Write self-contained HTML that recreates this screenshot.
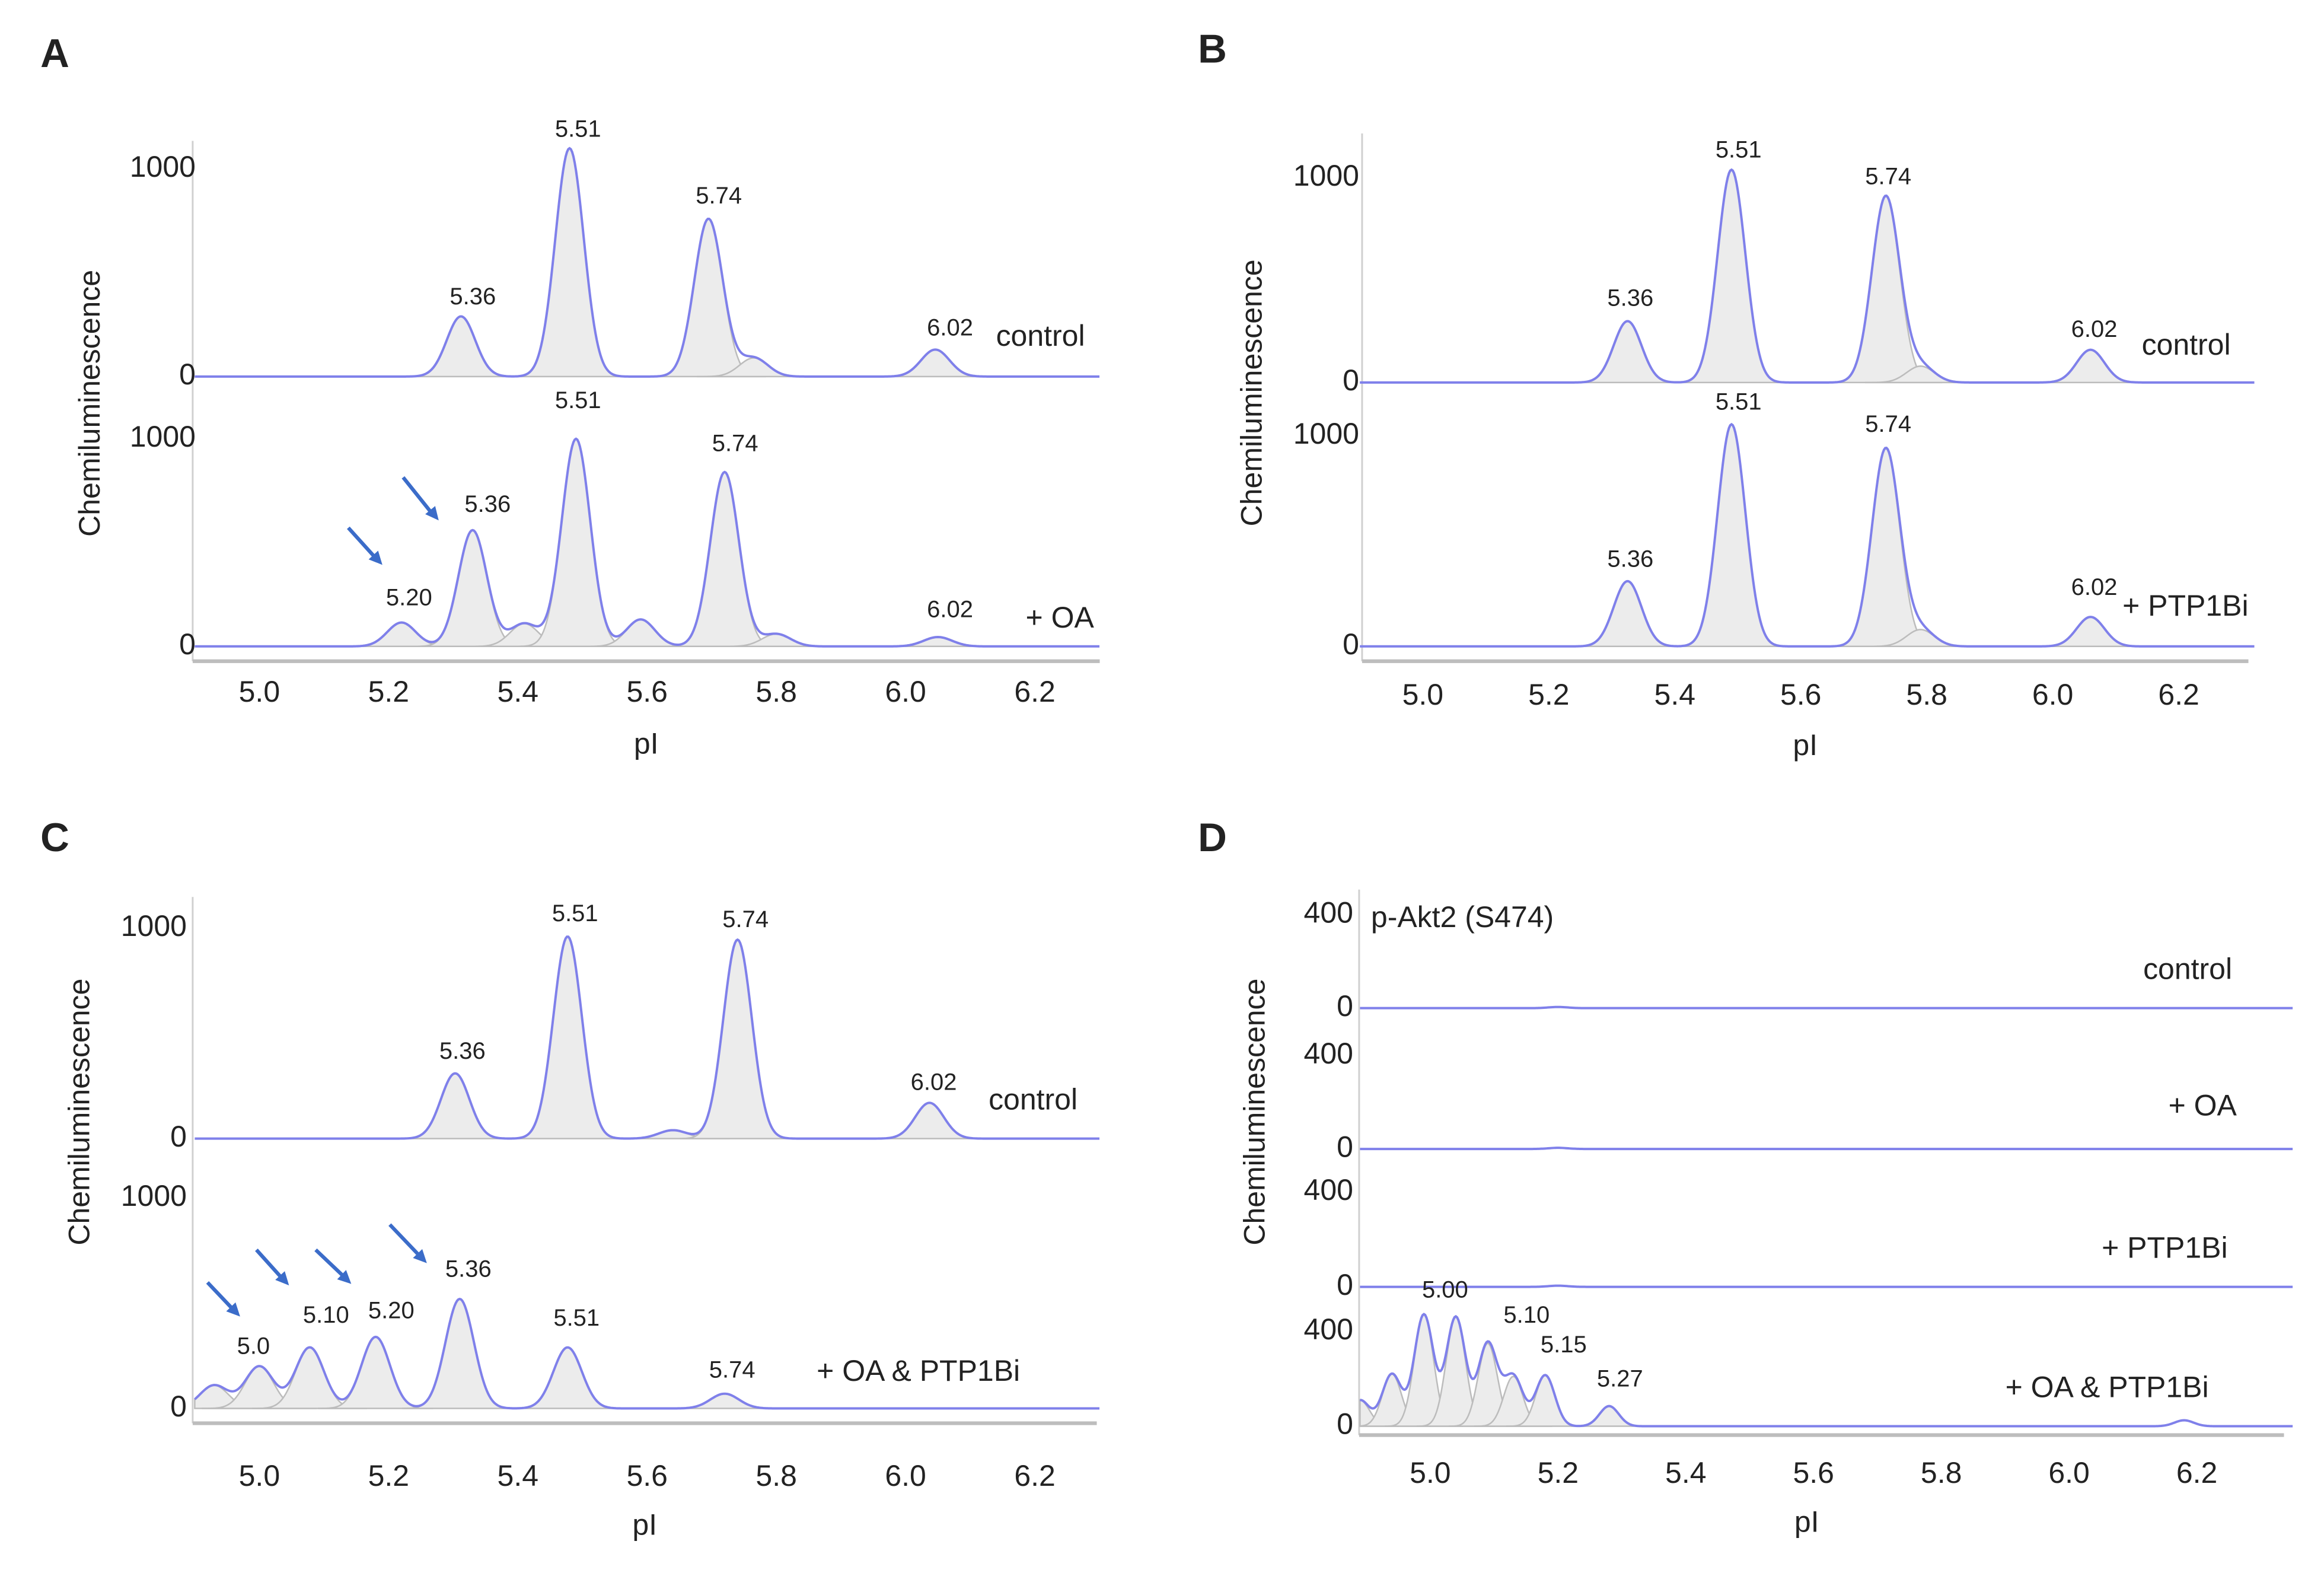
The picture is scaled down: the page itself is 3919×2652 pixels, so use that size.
<!DOCTYPE html>
<html><head><meta charset="utf-8"><style>
html,body{margin:0;padding:0;background:#fff}
svg{display:block}
text{font-family:"Liberation Sans",sans-serif;fill:#222}
</style></head><body>
<svg id="fig" width="3919" height="2652" viewBox="0 0 1568 1061" preserveAspectRatio="none" xmlns="http://www.w3.org/2000/svg"></svg>
<script>
// ---- data: peak centers (pI), heights (chemiluminescence), per trace ----
const aCtrlCenters=[5.312,5.48,5.695,5.765,6.046];
const aCtrlHeights=[290,1100,760,90,130];
const aOaCenters=[5.22,5.33,5.41,5.49,5.59,5.72,5.80,6.05];
const aOaHeights=[115,560,110,1000,130,840,60,45];
const bCtrlCenters=[5.325,5.49,5.735,5.79,6.06];
const bCtrlHeights=[300,1040,910,80,160];
const bPtpCenters=[5.325,5.49,5.735,5.79,6.06];
const bPtpHeights=[310,1055,940,80,140];
const cCtrlCenters=[5.303,5.477,5.64,5.74,6.037];
const cCtrlHeights=[310,960,40,945,170];
const cBothCenters=[4.93,5.0,5.078,5.18,5.31,5.477,5.72];
const cBothHeights=[110,200,290,340,520,290,70];
const dCtrlCenters=[5.2];const dCtrlHeights=[5];
const dOaCenters=[5.2];const dOaHeights=[5];
const dPtpCenters=[5.2];const dPtpHeights=[5];
const dBothCenters=[4.89,4.94,4.99,5.04,5.09,5.13,5.18,5.28,6.18];
const dBothHeights=[110,220,470,460,350,210,215,85,25];
const xTicks=[5.0,5.2,5.4,5.6,5.8,6.0,6.2];
const xTickLabels=["5.0","5.2","5.4","5.6","5.8","6.0","6.2"];

const svg=document.getElementById('fig');
const NS="http://www.w3.org/2000/svg";
function mk(tag,attrs,parent){const e=document.createElementNS(NS,tag);for(const k in attrs)e.setAttribute(k,attrs[k]);(parent||svg).appendChild(e);return e;}
function txt(x,y,s,size,anchor,name,weight){const t=mk('text',{x:x,y:y,'font-size':size,'text-anchor':anchor||'middle','dominant-baseline':'middle'});if(weight)t.setAttribute('font-weight',weight);t.textContent=s;


return t;}
function gauss(p,c,h,s){return h*Math.exp(-0.5*Math.pow((p-c)/s,2));}

function panel(P){
  const g=mk('g',{});
  
  
  const X=p=>P.x0+(p-5)*P.xs;
  const pStart=P.pStart, SIG=P.sig;
  mk('line',{x1:P.ax,y1:P.ayTop,x2:P.ax,y2:P.axisY,stroke:'#d0d0d0','stroke-width':1.2},g);
  mk('line',{x1:P.ax,y1:P.axisY,x2:P.axEnd,y2:P.axisY,stroke:'#bdbdbd','stroke-width':2.5},g);
  xTicks.forEach((t,i)=>txt(X(t),P.tickY,xTickLabels[i],20,'middle','x-tick-label'));
  txt((P.ax+P.axEnd)/2+ (P.id==='D'?-10:0),P.xtY,'pI',20,'middle','x-axis-title');
  const yt=txt(P.ytX,P.ytY,'Chemiluminescence',20,'middle','y-axis-title');
  yt.setAttribute('transform','rotate(-90 '+P.ytX+' '+P.ytY+')');
  txt(P.letter[0],P.letter[1],P.id,27,'middle','panel-letter','bold');
  P.traces.forEach(T=>{
    const Y=v=>T.base-v*T.sc;
    T.c.forEach((c,i)=>{
      if(T.h[i]<30)return;
      const s=Math.max(c-4*SIG,pStart),e2=c+4*SIG;
      let d='M'+X(s)+','+T.base;
      for(let p=s;p<=e2;p+=0.002)d+=' L'+X(p).toFixed(2)+','+Y(gauss(p,c,T.h[i],SIG)).toFixed(2);
      d+=' L'+X(e2)+','+T.base+'Z';
      const e=mk('path',{d:d,fill:'#ececec',stroke:'#bcbcbc','stroke-width':1},g);
      
      
    });
    let d='';
    for(let p=pStart;p<=P.pEnd;p+=0.002){let v=0;T.c.forEach((c,i)=>v+=gauss(p,c,T.h[i],SIG));d+=(d?' L':'M')+X(p).toFixed(2)+','+Y(v).toFixed(2);}
    const l=mk('path',{d:d,fill:'none',stroke:'#7f80ea','stroke-width':1.6},g);
    
    
    T.ticks.forEach(tk=>txt(P.ylX,T.base-tk*T.sc,String(tk),20,'end','y-tick-label'));
    T.labels.forEach(L=>txt(L[0],L[1],L[2],L[3]||16,L[4]||'middle',L[5]||'peak-label'));
  });
}
function arrow(x1,y1,x2,y2){
  const g=mk('g',{});
  
  
  mk('line',{x1:x1,y1:y1,x2:x2-4,y2:y2-4,stroke:'#3b6cc9','stroke-width':2.5},g);
  const a=Math.atan2(y2-y1,x2-x1),L=10;
  const p=[[x2,y2],[x2-L*Math.cos(a-0.45),y2-L*Math.sin(a-0.45)],[x2-L*Math.cos(a+0.45),y2-L*Math.sin(a+0.45)]];
  mk('polygon',{points:p.map(q=>q.join(',')).join(' '),fill:'#3b6cc9'},g);
}
panel({id:'A',sig:0.022,x0:175,xs:436,ax:130,axEnd:742,ayTop:95,axisY:446,tickY:468,xtY:503,ytX:62,ytY:272,ylX:132,pStart:4.9,pEnd:6.3,letter:[37,38],
 traces:[{c:aCtrlCenters,h:aCtrlHeights,base:254,sc:0.14,ticks:[0,1000],labels:[[319,201,'5.36'],[390,88,'5.51'],[485,133,'5.74'],[641,222,'6.02'],[672,228,'control',20,'start','trace-label']]},
 {c:aOaCenters,h:aOaHeights,base:436,sc:0.14,ticks:[0,1000],labels:[[390,271,'5.51'],[329,341,'5.36'],[276,404,'5.20'],[496,300,'5.74'],[641,412,'6.02'],[692,418,'+ OA',20,'start','trace-label']]}]});
panel({id:'B',sig:0.022,x0:960,xs:425,ax:919,axEnd:1517,ayTop:90,axisY:446,tickY:470,xtY:504,ytX:846,ytY:265,ylX:917,pStart:4.9,pEnd:6.32,letter:[818,35],
 traces:[{c:bCtrlCenters,h:bCtrlHeights,base:258,sc:0.138,ticks:[0,1000],labels:[[1100,202,'5.36'],[1173,102,'5.51'],[1274,120,'5.74'],[1413,223,'6.02'],[1445,234,'control',20,'start','trace-label']]},
 {c:bPtpCenters,h:bPtpHeights,base:436,sc:0.142,ticks:[0,1000],labels:[[1173,272,'5.51'],[1274,287,'5.74'],[1100,378,'5.36'],[1413,397,'6.02'],[1432,410,'+ PTP1Bi',20,'start','trace-label']]}]});
panel({id:'C',sig:0.022,x0:175,xs:436,ax:130,axEnd:740,ayTop:605,axisY:960,tickY:997,xtY:1030,ytX:55,ytY:750,ylX:126,pStart:4.9,pEnd:6.3,letter:[37,567],
 traces:[{c:cCtrlCenters,h:cCtrlHeights,base:768,sc:0.142,ticks:[0,1000],labels:[[312,710,'5.36'],[388,617,'5.51'],[503,621,'5.74'],[630,731,'6.02'],[667,743,'control',20,'start','trace-label']]},
 {c:cBothCenters,h:cBothHeights,base:950,sc:0.142,ticks:[0,1000],labels:[[316,857,'5.36'],[264,885,'5.20'],[220,888,'5.10'],[171,909,'5.0'],[389,890,'5.51'],[494,925,'5.74'],[551,926,'+ OA & PTP1Bi',20,'start','trace-label']]}]});
panel({id:'D',sig:0.015,x0:965,xs:431,ax:917,axEnd:1541,ayTop:600,axisY:968,tickY:995,xtY:1028,ytX:848,ytY:750,ylX:913,pStart:4.89,pEnd:6.35,letter:[818,567],
 traces:[{c:dCtrlCenters,h:dCtrlHeights,base:680,sc:0.1575,ticks:[0,400],labels:[[925,620,'p-Akt2 (S474)',20,'start','antibody-label'],[1446,655,'control',20,'start','trace-label']]},
 {c:dOaCenters,h:dOaHeights,base:775,sc:0.1575,ticks:[0,400],labels:[[1463,747,'+ OA',20,'start','trace-label']]},
 {c:dPtpCenters,h:dPtpHeights,base:868,sc:0.16,ticks:[0,400],labels:[[1418,843,'+ PTP1Bi',20,'start','trace-label']]},
 {c:dBothCenters,h:dBothHeights,base:962,sc:0.16,ticks:[0,400],labels:[[975,871,'5.00'],[1030,888,'5.10'],[1055,908,'5.15'],[1093,931,'5.27'],[1353,937,'+ OA & PTP1Bi',20,'start','trace-label']]}]});
arrow(235,356,258,381);arrow(272,322,296,351);
arrow(140,865,162,888);arrow(173,843,195,867);arrow(213,843,237,866);arrow(263,826,288,852);
</script>
</body></html>
